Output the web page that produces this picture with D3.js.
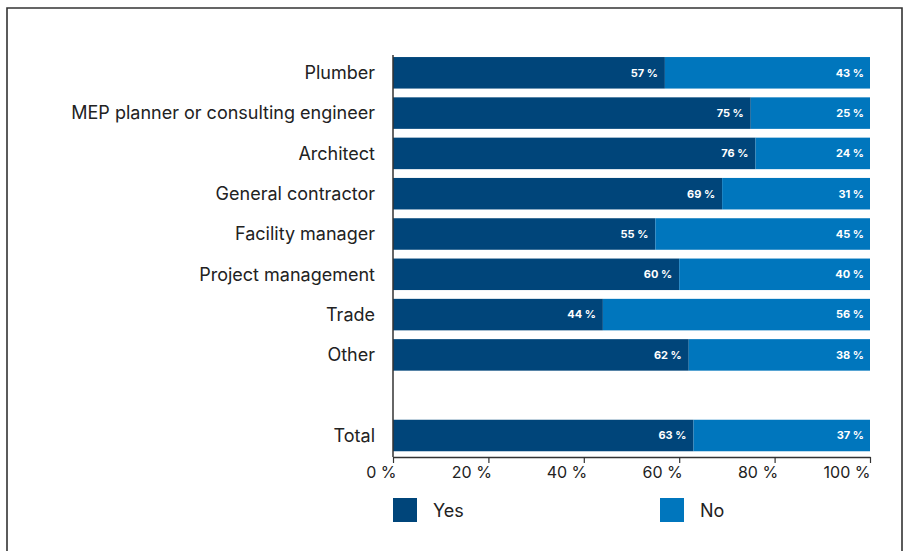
<!DOCTYPE html>
<html><head><meta charset="utf-8">
<script src="https://cdn.jsdelivr.net/npm/d3@7"></script>
<style>
html,body{margin:0;padding:0;background:#fff;}
svg{display:block;}
</style></head>
<body>
<svg id="chart" width="906" height="551"></svg>
<script>
const categories = ["Plumber","MEP planner or consulting engineer","Architect","General contractor","Facility manager","Project management","Trade","Other","","Total"];
const yesValues = [57,75,76,69,55,60,44,62,null,63];
const noValues  = [43,25,24,31,45,40,56,38,null,37];
const seriesNames = ["Yes","No"];
const tickValues = [0,20,40,60,80,100];

const svg = d3.select("#chart");
const colors = {Yes:"#00457a", No:"#0076bd"};
const font = "Inter, 'Noto Sans', sans-serif";

// frame
svg.append("path").attr("d","M7,552 L7,8 L902,8 L902,552")
  .attr("fill","none").attr("stroke","#333").attr("stroke-width",1.6);

const x = d3.scaleLinear().domain([0,100]).range([393,870]);
const y = d3.scaleBand().domain(categories).range([51,457.3]).paddingInner(0.218).paddingOuter(0.15);

const rows = categories.map((c,i)=>({cat:c, yes:yesValues[i], no:noValues[i]})).filter(d=>d.yes!=null);

const g = svg.append("g");
rows.forEach(d=>{
  g.append("rect").attr("x",x(0)).attr("y",y(d.cat)).attr("width",x(d.yes)-x(0)).attr("height",y.bandwidth()).attr("fill",colors.Yes);
  g.append("rect").attr("x",x(d.yes)).attr("y",y(d.cat)).attr("width",x(100)-x(d.yes)).attr("height",y.bandwidth()).attr("fill",colors.No);
  g.append("text").attr("x",x(d.yes)-7).attr("y",y(d.cat)+y.bandwidth()/2).attr("dy","0.35em")
    .attr("text-anchor","end").attr("fill","#fff").attr("font-family",font).attr("font-weight","bold").attr("font-size",11).text(d.yes+" %");
  g.append("text").attr("x",x(100)-6).attr("y",y(d.cat)+y.bandwidth()/2).attr("dy","0.35em")
    .attr("text-anchor","end").attr("fill","#fff").attr("font-family",font).attr("font-weight","bold").attr("font-size",11).text(d.no+" %");
  g.append("text").attr("x",375).attr("y",y(d.cat)+y.bandwidth()/2).attr("dy","0.35em")
    .attr("text-anchor","end").attr("fill","#222").attr("font-family",font).attr("font-size",18).text(d.cat);
});

// y axis line
svg.append("line").attr("x1",x(0)).attr("x2",x(0)).attr("y1",55).attr("y2",457).attr("stroke","#333").attr("stroke-width",1.5);

// x axis
const xAxis = svg.append("g").attr("transform","translate(0,457)")
  .call(d3.axisBottom(x).tickValues(tickValues).tickSize(6).tickSizeOuter(0).tickFormat(d=>d+" %"));
xAxis.select(".domain").attr("stroke","#333").attr("stroke-width",1.5);
xAxis.selectAll(".tick line").attr("stroke","#333").attr("stroke-width",1.2);
xAxis.selectAll(".tick text").attr("font-family",font).attr("font-size",16).attr("fill","#222")
  .attr("dy","1.0em").attr("y",5).attr("text-anchor","end").attr("x",d=>d===100?0:3);

// legend
const legX = [393,660];
seriesNames.forEach((s,i)=>{
  svg.append("rect").attr("x",legX[i]).attr("y",498).attr("width",24).attr("height",24).attr("fill",colors[s]);
  svg.append("text").attr("x",legX[i]+40).attr("y",511).attr("dy","0.35em").attr("font-family",font).attr("font-size",18).attr("fill","#222").text(s);
});
</script>
</body></html>
